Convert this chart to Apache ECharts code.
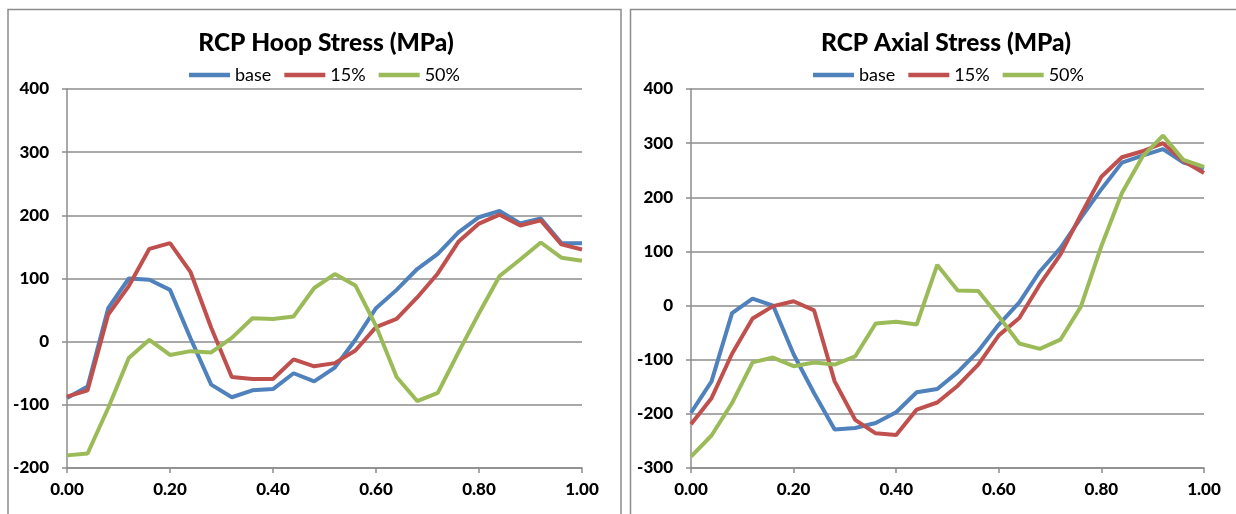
<!DOCTYPE html>
<html>
<head>
<meta charset="utf-8">
<script src="https://cdn.jsdelivr.net/npm/echarts@6/dist/echarts.min.js"></script>
<style>
html,body{margin:0;padding:0;background:#fff;}
#c{width:1236px;height:514px;}
</style>
</head>
<body>
<div id="c"></div>
<script>
const xPos = [0,0.04,0.08,0.12,0.16,0.20,0.24,0.28,0.32,0.36,0.40,0.44,0.48,0.52,0.56,0.60,0.64,0.68,0.72,0.76,0.80,0.84,0.88,0.92,0.96,1.00];
const seriesNames = ['base','15%','50%'];
const hoopBase = [-89,-71,53,100,98,82,5,-68,-88,-77,-75,-50,-63,-41,3,53,82,115,139,173,197,207,187,195,156,156];
const hoop15   = [-87,-77,43,88,147,156,110,22,-56,-59,-59,-28,-39,-34,-14,23,36,70,108,158,187,201,184,192,154,146];
const hoop50   = [-180,-177,-105,-26,3,-21,-15,-17,6,37,36,40,85,107,89,25,-56,-94,-81,-17,45,104,130,157,133,128];
const axialBase = [-198,-140,-14,13,0,-90,-162,-229,-226,-217,-197,-160,-154,-123,-84,-35,6,63,106,162,215,264,277,289,264,253];
const axial15   = [-219,-171,-89,-24,-1,8,-9,-140,-211,-236,-239,-192,-179,-148,-109,-55,-23,39,94,168,238,274,285,300,267,245];
const axial50   = [-279,-240,-180,-105,-96,-112,-105,-109,-94,-33,-30,-35,75,28,27,-20,-70,-80,-63,-2,110,208,275,314,269,256];
const xTicks = {min:0, max:1, interval:0.2};
const hoopTicks = {min:-200, max:400, interval:100};
const axialTicks = {min:-300, max:400, interval:100};
const titles = ['RCP Hoop Stress (MPa)','RCP Axial Stress (MPa)'];
const colors = ['#4F81BD','#C0504D','#9BBB59'];

const FONT = 'Lato';
const gridColor = '#8c8c8c';
const pair = v => xPos.map((x,i)=>[x,v[i]]);

function xAxisOf(idx){
  return {type:'value', gridIndex:idx, min:xTicks.min, max:xTicks.max, interval:xTicks.interval,
    axisLine:{show:true, onZero:false, lineStyle:{color:gridColor,width:1.5}},
    axisTick:{show:true, length:5, lineStyle:{color:gridColor,width:1.5}},
    splitLine:{show:false},
    axisLabel:{formatter:v=>v.toFixed(2), color:'#000', fontFamily:FONT, fontWeight:900, fontSize:17, margin:13}};
}
function yAxisOf(idx, t){
  return {type:'value', gridIndex:idx, min:t.min, max:t.max, interval:t.interval,
    axisLine:{show:true, lineStyle:{color:gridColor,width:1.5}},
    axisTick:{show:true, length:5, lineStyle:{color:gridColor,width:1.5}},
    splitLine:{show:true, lineStyle:{color:gridColor,width:1.5}},
    axisLabel:{color:'#000', fontFamily:FONT, fontWeight:900, fontSize:17, margin:18}};
}
function lineSeries(name, data, idx, ci){
  return {name, type:'line', xAxisIndex:idx, yAxisIndex:idx, data:pair(data),
    showSymbol:false, symbol:'none', animation:false,
    lineStyle:{color:colors[ci], width:4}, itemStyle:{color:colors[ci]}};
}
const legendCommon = {data:seriesNames, icon:'rect', itemWidth:41, itemHeight:4.5, itemGap:13,
  textStyle:{fontFamily:FONT, fontSize:18, color:'#000'}, top:61};

const chart = echarts.init(document.getElementById('c'), null, {renderer:'canvas'});
chart.setOption({
  animation:false,
  backgroundColor:'#fff',
  graphic:[
    {type:'rect', shape:{x:8, y:9.5, width:613, height:600}, style:{fill:'none', stroke:'#8c8c8c', lineWidth:1.5}, silent:true},
    {type:'rect', shape:{x:630.5, y:9.5, width:700, height:600}, style:{fill:'none', stroke:'#8c8c8c', lineWidth:1.5}, silent:true}
  ],
  title:[
    {text:titles[0], left:321, top:26, textAlign:'center', textStyle:{fontFamily:FONT, fontWeight:900, fontSize:24.5, color:'#000'}},
    {text:titles[1], left:941, top:26, textAlign:'center', textStyle:{fontFamily:FONT, fontWeight:900, fontSize:24.5, color:'#000'}}
  ],
  legend:[
    Object.assign({}, legendCommon, {left:184}),
    Object.assign({}, legendCommon, {left:808})
  ],
  grid:[
    {left:67, top:89, width:515, height:379},
    {left:691, top:89, width:513, height:379}
  ],
  xAxis:[xAxisOf(0), xAxisOf(1)],
  yAxis:[yAxisOf(0,hoopTicks), yAxisOf(1,axialTicks)],
  series:[
    lineSeries(seriesNames[0], hoopBase, 0, 0),
    lineSeries(seriesNames[1], hoop15, 0, 1),
    lineSeries(seriesNames[2], hoop50, 0, 2),
    lineSeries(seriesNames[0], axialBase, 1, 0),
    lineSeries(seriesNames[1], axial15, 1, 1),
    lineSeries(seriesNames[2], axial50, 1, 2)
  ]
});
</script>
</body>
</html>
